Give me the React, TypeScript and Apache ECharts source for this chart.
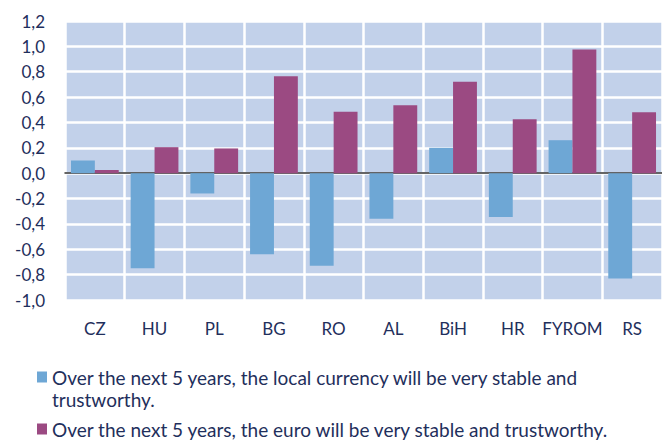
import React, { useEffect, useRef } from "react";
import * as echarts from "echarts";

const categories = ["CZ", "HU", "PL", "BG", "RO", "AL", "BiH", "HR", "FYROM", "RS"];
const localCurrency = [0.1, -0.75, -0.16, -0.64, -0.73, -0.36, 0.2, -0.345, 0.26, -0.83];
const euro = [0.025, 0.205, 0.195, 0.765, 0.485, 0.535, 0.72, 0.425, 0.975, 0.48];
const seriesNames = [
  "Over the next 5 years, the local currency will be very stable and\ntrustworthy.",
  "Over the next 5 years, the euro will be very stable and trustworthy.",
];

const FONT = "Lato, 'Noto Sans', sans-serif";
const TEXT = "#1f2f5c";
const BLUE = "#6ea7d5";
const PURPLE = "#9b4a82";

export default function App() {
  const ref = useRef<HTMLDivElement>(null);
  useEffect(() => {
    if (!ref.current) return;
    const chart = echarts.init(ref.current, null, { renderer: "svg" });
    chart.setOption({
      animation: false,
      textStyle: { fontFamily: FONT },
      grid: {
        left: 65,
        top: 21,
        width: 599,
        height: 279,
        show: true,
        backgroundColor: "#c2d1ea",
        borderWidth: 0,
        containLabel: false,
      },
      legend: [
        {
          orient: "vertical",
          left: 32,
          top: 361,
          padding: 5,
          itemWidth: 10,
          itemHeight: 44,
          icon: "path://M0,5.5H10V16.5H0Z M0,0 M0,44",
          textStyle: { fontSize: 19, color: TEXT, fontFamily: FONT, lineHeight: 22 },
          data: [seriesNames[0]],
        },
        {
          orient: "vertical",
          left: 32,
          top: 413,
          padding: 5,
          itemWidth: 10,
          itemHeight: 11,
          icon: "rect",
          textStyle: { fontSize: 19, color: TEXT, fontFamily: FONT, lineHeight: 22 },
          data: [seriesNames[1]],
        },
      ],
      xAxis: {
        type: "category",
        data: categories,
        axisLine: { onZero: true, lineStyle: { color: "#333", width: 1.5 } },
        axisTick: { show: false },
        axisLabel: { fontSize: 17, color: TEXT, margin: 20, fontFamily: FONT, interval: 0 },
        splitLine: { show: true, lineStyle: { color: "#ffffff", width: 2.5 } },
      },
      yAxis: {
        type: "value",
        min: -1.0,
        max: 1.2,
        interval: 0.2,
        axisLine: { show: false },
        axisTick: { show: false },
        axisLabel: {
          fontSize: 17,
          color: TEXT,
          margin: 20,
          fontFamily: FONT,
          formatter: (v: number) => v.toFixed(1).replace(".", ","),
        },
        splitLine: { show: true, lineStyle: { color: "#ffffff", width: 2.5 } },
      },
      series: [
        {
          name: seriesNames[0],
          type: "bar",
          data: localCurrency,
          itemStyle: { color: BLUE },
          barGap: "0%",
          barCategoryGap: "20%",
        },
        {
          name: seriesNames[1],
          type: "bar",
          data: euro,
          itemStyle: { color: PURPLE },
          barGap: "0%",
          barCategoryGap: "20%",
        },
      ],
    });
    return () => chart.dispose();
  }, []);
  return (
    <div
      ref={ref}
      style={{ position: "fixed", left: 0, top: 0, width: 662, height: 440, background: "#fff" }}
    />
  );
}
